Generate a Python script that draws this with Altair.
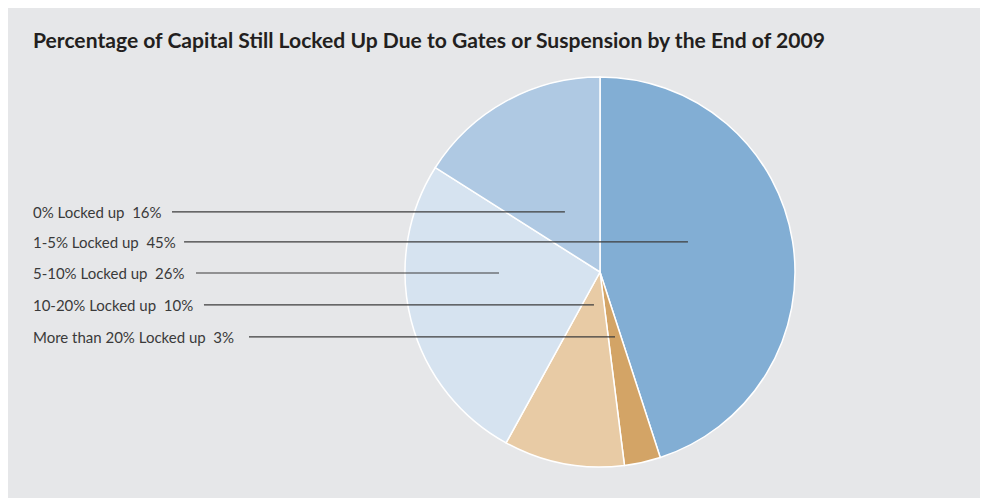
import altair as alt
import pandas as pd

# Pie data (clockwise from 12 o'clock)
categories = ["1-5% Locked up", "More than 20% Locked up", "10-20% Locked up",
              "5-10% Locked up", "0% Locked up"]
values = [45, 3, 10, 26, 16]
colors = ["#82aed4", "#d3a466", "#e8cba5", "#d6e3f0", "#afc9e3"]

# Legend-style labels (top to bottom) with leader lines
label_cats = ["0% Locked up", "1-5% Locked up", "5-10% Locked up",
              "10-20% Locked up", "More than 20% Locked up"]
label_vals = [16, 45, 26, 10, 3]
# positions in pie-radius units (pie centre = 0,0; radius = 1)
label_y = [0.308, 0.154, -0.005, -0.169, -0.333]
label_x = [-2.908] * 5
line_start = [-2.195, -2.133, -2.072, -2.031, -1.80]
line_end = [-0.18, 0.451, -0.518, -0.031, 0.077]

title = "Percentage of Capital Still Locked Up Due to Gates or Suspension by the End of 2009"

W, H = 972, 490
R = 195
cx_px, cy_px = 592, 264
xdom = [-cx_px / R, (W - cx_px) / R]
ydom = [-(H - cy_px) / R, cy_px / R]

xs = alt.Scale(domain=xdom, range=[0, W], nice=False, zero=False)
ys = alt.Scale(domain=ydom, range=[H, 0], nice=False, zero=False)

pie_df = pd.DataFrame({"cat": categories, "val": values,
                       "order": list(range(len(values))),
                       "cx": [0.0] * len(values), "cy": [0.0] * len(values)})

lab_df = pd.DataFrame({
    "text": [f"{c}\u00a0 {v}%" for c, v in zip(label_cats, label_vals)],
    "lx": label_x, "ly": label_y, "x1": line_start, "x2": line_end,
})

pie = alt.Chart(pie_df).mark_arc(radius=R, stroke="white", strokeWidth=1.5).encode(
    theta=alt.Theta("val:Q", stack=True),
    order=alt.Order("order:Q"),
    color=alt.Color("cat:N", scale=alt.Scale(domain=categories, range=colors), legend=None),
    x=alt.X("cx:Q", scale=xs, axis=None),
    y=alt.Y("cy:Q", scale=ys, axis=None),
)

lines = alt.Chart(lab_df).mark_rule(color="#3c3c3c", strokeWidth=1.2).encode(
    x=alt.X("x1:Q", scale=xs, axis=None),
    x2="x2:Q",
    y=alt.Y("ly:Q", scale=ys, axis=None),
)

labels = alt.Chart(lab_df).mark_text(
    align="left", baseline="middle", font="Lato", fontSize=15, color="#3a3a3a", dy=1
).encode(
    x=alt.X("lx:Q", scale=xs, axis=None),
    y=alt.Y("ly:Q", scale=ys, axis=None),
    text="text:N",
)

title_mark = alt.Chart(pd.DataFrame({"t": [title]})).mark_text(
    align="left", baseline="alphabetic", font="Lato", fontSize=21.1, fontWeight="bold",
    color="#231f20"
).encode(x=alt.value(25), y=alt.value(40), text="t:N")

chart = alt.layer(pie, lines, labels, title_mark).properties(
    width=W, height=H, autosize=alt.AutoSizeParams(type="none"), padding=0,
    background="#e6e7e9"
).configure_view(stroke=None)

chart.save("out.html", embed_options={"renderer": "svg", "actions": False})
